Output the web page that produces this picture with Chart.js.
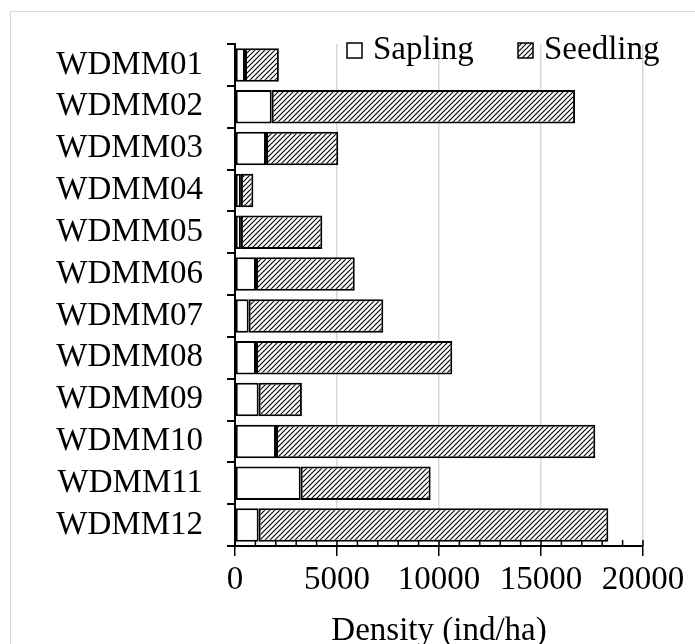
<!DOCTYPE html>
<html>
<head>
<meta charset="utf-8">
<script src="https://cdn.jsdelivr.net/npm/chart.js@4.4.1/dist/chart.umd.min.js"></script>
<style>
  html, body { margin: 0; padding: 0; background: #fff; }
  #wrap { position: relative; width: 695px; height: 644px; }
  #frame { position: absolute; left: 10px; top: 11px; right: -5px; bottom: -5px;
           border-top: 1px solid #d9d9d9; border-left: 1px solid #d9d9d9; }
  canvas { position: absolute; left: 0; top: 0; }
</style>
</head>
<body>
<div id="wrap">
  <div id="frame"></div>
  <canvas id="densityChart" width="695" height="644"></canvas>
</div>
<script>
/* plot data */
const sites = ["WDMM01", "WDMM02", "WDMM03", "WDMM04", "WDMM05", "WDMM06",
               "WDMM07", "WDMM08", "WDMM09", "WDMM10", "WDMM11", "WDMM12"];
const sapling = [490, 1800, 1520, 290, 290, 1030, 670, 1030, 1160, 2010, 3220, 1160];
const seedling = [1660, 14870, 3540, 610, 3990, 4840, 6600, 9620, 2120, 15650, 6370, 17140];
const xTicks = [0, 5000, 10000, 15000, 20000];

const FONT = "'Liberation Serif', 'Times New Roman', serif";

// diagonal hatch fill for seedling bars
function makeHatch() {
    const p = 5;
    const c = document.createElement("canvas");
    c.width = p; c.height = p;
    const g = c.getContext("2d");
    g.fillStyle = "#fff";
    g.fillRect(0, 0, p, p);
    g.strokeStyle = "#000";
    g.lineWidth = 1.1;
    g.beginPath();
    g.moveTo(-1, p + 1); g.lineTo(p + 1, -1);
    g.moveTo(-1, 1); g.lineTo(1, -1);
    g.moveTo(p - 1, p + 1); g.lineTo(p + 1, p - 1);
    g.stroke();
    return g.createPattern(c, "repeat");
}
const seedFill = makeHatch();

// minor ticks on the x axis + legend drawn inside the plot area
const extras = {
    id: "extras",
    afterDraw(chart) {
        const ctx = chart.ctx;
        const x = chart.scales.x;
        const area = chart.chartArea;
        ctx.save();
        ctx.strokeStyle = "#000";
        ctx.lineWidth = 1.5;
        ctx.beginPath();
        for (let v = 0; v <= 20000; v += 1000) {
            const px = x.getPixelForValue(v);
            ctx.moveTo(px, area.bottom - 6);
            ctx.lineTo(px, area.bottom);
        }
        ctx.stroke();

        // legend
        const items = [
            { x: 347, label: chart.data.datasets[0].label, fill: chart.data.datasets[0].backgroundColor },
            { x: 518, label: chart.data.datasets[1].label, fill: chart.data.datasets[1].backgroundColor }
        ];
        ctx.font = "33px " + FONT;
        ctx.textBaseline = "middle";
        items.forEach(it => {
            ctx.fillStyle = it.fill;
            ctx.fillRect(it.x, 43, 15, 15);
            ctx.lineWidth = 1.5;
            ctx.strokeStyle = "#000";
            ctx.strokeRect(it.x, 43, 15, 15);
            ctx.fillStyle = "#000";
            ctx.fillText(it.label, it.x + 26, 50);
        });
        ctx.restore();
    }
};

const CHART = document.getElementById("densityChart");
let densityChart = new Chart(CHART, {
    type: 'bar',
    data: {
        labels: sites,
        datasets: [
            {
                label: 'Sapling',
                data: sapling,
                backgroundColor: "#ffffff",
                borderColor: "#000000",
                borderWidth: 2,
                borderSkipped: false
            },
            {
                label: 'Seedling',
                data: seedling,
                backgroundColor: seedFill,
                borderColor: "#000000",
                borderWidth: 2,
                borderSkipped: false
            }
        ]
    },
    options: {
        indexAxis: 'y',
        responsive: false,
        animation: false,
        devicePixelRatio: 1,
        layout: { padding: { top: 44, left: 55, right: 52, bottom: 0 } },
        datasets: { bar: { categoryPercentage: 1.0, barPercentage: 0.8 } },
        plugins: {
            legend: { display: false },
            tooltip: { enabled: false }
        },
        scales: {
            x: {
                stacked: true,
                min: 0,
                max: 20000,
                afterBuildTicks: (scale) => { scale.ticks = xTicks.map(v => ({ value: v })); },
                afterFit: (scale) => { scale.height = 98; },
                grid: { color: "#d9d9d9", lineWidth: 1.5, tickColor: "#000", tickLength: 10 },
                border: { color: "#000", width: 2 },
                ticks: {
                    color: "#000",
                    font: { family: FONT, size: 33 },
                    padding: 5,
                    maxRotation: 0,
                    callback: (v) => String(v)
                },
                title: {
                    display: true,
                    text: 'Density (ind/ha)',
                    color: "#000",
                    font: { family: FONT, size: 33, lineHeight: 1.0 },
                    padding: { top: 0, bottom: -4 }
                }
            },
            y: {
                stacked: true,
                afterFit: (scale) => { scale.width = 180; },
                grid: { drawOnChartArea: false, offset: true, color: "#000", tickColor: "#000", tickLength: 8, lineWidth: 2 },
                border: { color: "#000", width: 2 },
                ticks: { color: "#000", font: { family: FONT, size: 33 }, padding: 24, autoSkip: false }
            }
        }
    },
    plugins: [extras]
});
</script>
</body>
</html>
